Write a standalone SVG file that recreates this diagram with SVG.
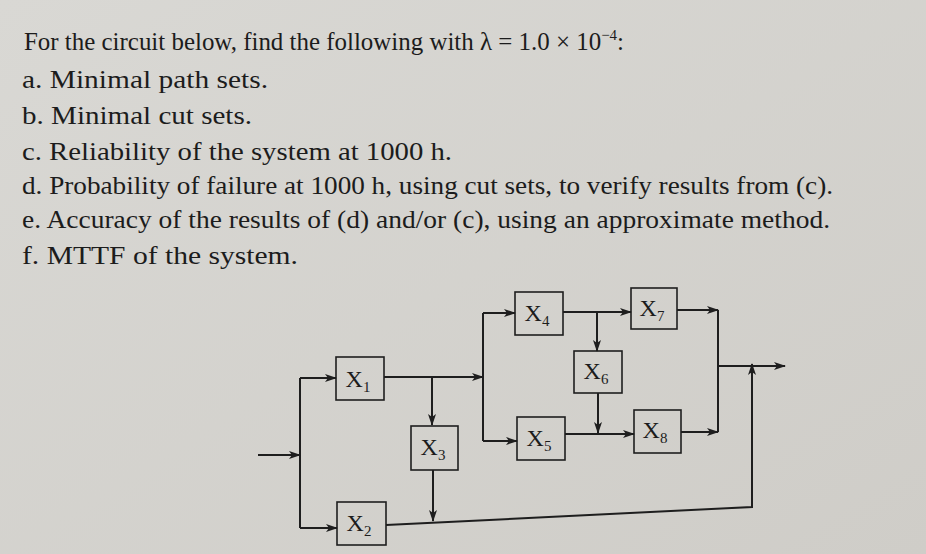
<svg xmlns="http://www.w3.org/2000/svg" width="926" height="554" viewBox="0 0 926 554">
<defs>
<marker id="a" markerWidth="12" markerHeight="8" refX="11" refY="4" orient="auto" markerUnits="userSpaceOnUse"><path d="M0,0 L12,4 L0,8 L3,4 Z" fill="#1e1e1e"/></marker>
<linearGradient id="bg" x1="0" y1="0" x2="1" y2="1"><stop offset="0" stop-color="#d9d8d4"/><stop offset="1" stop-color="#cfcdc8"/></linearGradient>
</defs>
<style>
.t{font-family:"Liberation Serif",serif;font-size:25px;fill:#1c1c1c}
.b{fill:none;stroke:#1e1e1e;stroke-width:1.6}
.l{fill:none;stroke:#1e1e1e;stroke-width:2}
.n{font-family:"Liberation Serif",serif;font-size:24px;fill:#1c1c1c;text-anchor:middle}
.s{font-size:15px}
</style>
<rect width="926" height="554" fill="url(#bg)"/>
<g id="text">
<text class="t" x="24" y="50" textLength="600" lengthAdjust="spacingAndGlyphs">For the circuit below, find the following with λ = 1.0 × 10<tspan class="s" dy="-10">−4</tspan><tspan dy="10">:</tspan></text>
<text class="t" x="22" y="88" textLength="246" lengthAdjust="spacingAndGlyphs">a.  Minimal path sets.</text>
<text class="t" x="22" y="124" textLength="230" lengthAdjust="spacingAndGlyphs">b.  Minimal cut sets.</text>
<text class="t" x="22" y="160" textLength="430" lengthAdjust="spacingAndGlyphs">c.  Reliability of the system at 1000 h.</text>
<text class="t" x="22" y="194" textLength="811" lengthAdjust="spacingAndGlyphs">d.  Probability of failure at 1000 h, using cut sets, to verify results from (c).</text>
<text class="t" x="22" y="228" textLength="808" lengthAdjust="spacingAndGlyphs">e.  Accuracy of the results of (d) and/or (c), using an approximate method.</text>
<text class="t" x="22" y="264" textLength="276" lengthAdjust="spacingAndGlyphs">f.  MTTF of the system.</text>
</g>
<g id="connectors">
<path class="l" d="M258,455 H300" marker-end="url(#a)"/>
<path class="l" d="M300,378 V528"/>
<path class="l" d="M300,378 H336" marker-end="url(#a)"/>
<path class="l" d="M300,528 H337" marker-end="url(#a)"/>
<path class="l" d="M384,377 H483" marker-end="url(#a)"/>
<path class="l" d="M432,377 V425" marker-end="url(#a)"/>
<path class="l" d="M483,313 V441"/>
<path class="l" d="M483,313 H515" marker-end="url(#a)"/>
<path class="l" d="M483,441 H517" marker-end="url(#a)"/>
<path class="l" d="M433,470 V521" marker-end="url(#a)"/>
<path class="l" d="M386,525 L752,507 V364" marker-end="url(#a)"/>
<path class="l" d="M563,312 H631" marker-end="url(#a)"/>
<path class="l" d="M597,312 V351" marker-end="url(#a)"/>
<path class="l" d="M598,393 V433" marker-end="url(#a)"/>
<path class="l" d="M565,434 H634" marker-end="url(#a)"/>
<path class="l" d="M677,310 H718" marker-end="url(#a)"/>
<path class="l" d="M718,310 V432"/>
<path class="l" d="M681,432 H718" marker-end="url(#a)"/>
<path class="l" d="M718,366 H785" marker-end="url(#a)"/>
</g>
<g id="X1"><rect class="b" x="336" y="357" width="48" height="43"/><text class="n" x="358" y="387">X<tspan class="s" dy="5">1</tspan></text></g>
<g id="X2"><rect class="b" x="337" y="502" width="49" height="43"/><text class="n" x="359" y="531">X<tspan class="s" dy="5">2</tspan></text></g>
<g id="X3"><rect class="b" x="411" y="426" width="47" height="44"/><text class="n" x="433" y="455">X<tspan class="s" dy="5">3</tspan></text></g>
<g id="X4"><rect class="b" x="515" y="292" width="48" height="43"/><text class="n" x="537" y="321">X<tspan class="s" dy="5">4</tspan></text></g>
<g id="X5"><rect class="b" x="517" y="417" width="48" height="43"/><text class="n" x="539" y="446">X<tspan class="s" dy="5">5</tspan></text></g>
<g id="X6"><rect class="b" x="574" y="351" width="48" height="42"/><text class="n" x="596" y="379">X<tspan class="s" dy="5">6</tspan></text></g>
<g id="X7"><rect class="b" x="631" y="288" width="46" height="41"/><text class="n" x="652" y="316">X<tspan class="s" dy="5">7</tspan></text></g>
<g id="X8"><rect class="b" x="634" y="410" width="47" height="43"/><text class="n" x="655" y="438">X<tspan class="s" dy="5">8</tspan></text></g>
</svg>
